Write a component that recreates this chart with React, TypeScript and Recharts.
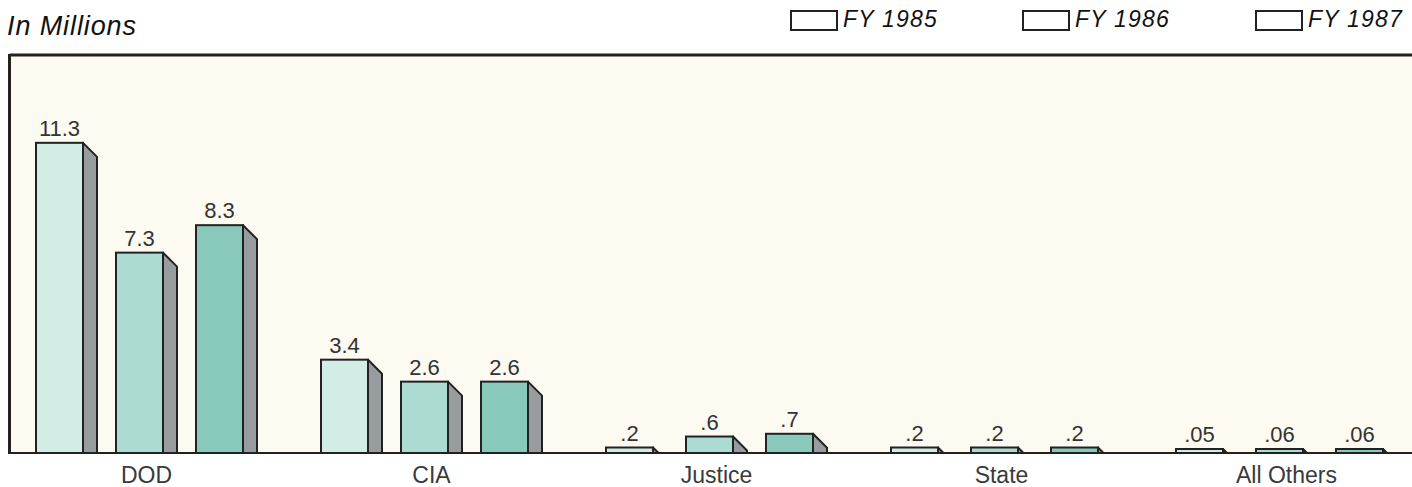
import { BarChart, Bar, XAxis, YAxis, CartesianGrid, ReferenceLine, LabelList } from 'recharts';

document.body.style.margin = '0';

const categories = ['DOD', 'CIA', 'Justice', 'State', 'All Others'];
const fy1985 = [11.3, 3.4, 0.2, 0.2, 0.05];
const fy1986 = [7.3, 2.6, 0.6, 0.2, 0.06];
const fy1987 = [8.3, 2.6, 0.7, 0.2, 0.06];
const seriesNames = ['FY 1985', 'FY 1986', 'FY 1987'];
const seriesKeys = ['fy1985', 'fy1986', 'fy1987'];
const colors = ['#d2ece6', '#acdbd1', '#88c9bc'];

const data = categories.map((name, i) => ({
  name,
  fy1985: fy1985[i],
  fy1986: fy1986[i],
  fy1987: fy1987[i],
}));

const FONT = '"Liberation Sans", Arial, Helvetica, sans-serif';
const DEPTH = 14; // width of the shaded side face

// "0.2" -> ".2", "0.05" -> ".05"
const fmt = (v: number) => String(v).replace(/^0\./, '.');

const Bar3D = (props: any) => {
  const { x, y, width, height, fill } = props;
  if (!height || height <= 0) return null;
  const fw = width - DEPTH;
  const d = Math.min(DEPTH, height);
  const base = y + height;
  const side = `${x + fw},${y} ${x + fw + d},${y + d} ${x + fw + d},${base} ${x + fw},${base}`;
  return (
    <g>
      <polygon points={side} fill="#999c9e" stroke="#222" strokeWidth={2} strokeLinejoin="round" />
      <rect x={x} y={y} width={fw} height={height} fill={fill} stroke="#222" strokeWidth={2} />
    </g>
  );
};

const ValueLabel = (props: any) => {
  const { x, y, width, value } = props;
  const fw = width - DEPTH;
  return (
    <text x={x + fw / 2} y={y - 7} textAnchor="middle" fontSize={22} fill="#333" fontFamily={FONT}>
      {fmt(value)}
    </text>
  );
};

const CategoryTick = (props: any) => {
  const { x, y, payload } = props;
  return (
    <text x={x} y={y + 22} textAnchor="middle" fontSize={23} fill="#3a3a3a" fontFamily={FONT}>
      {payload.value}
    </text>
  );
};

const legendX = [790, 1022, 1255];

export default function App() {
  return (
    <div style={{ position: 'relative', width: 1412, height: 487, background: '#fff', fontFamily: FONT }}>
      <div
        style={{
          position: 'absolute', left: 7, top: 13, fontSize: 27, lineHeight: 1,
          fontStyle: 'italic', color: '#111', letterSpacing: 0.9,
        }}
      >
        In Millions
      </div>
      {seriesNames.map((s, i) => (
        <div key={s} style={{ position: 'absolute', left: legendX[i], top: 8, display: 'flex', alignItems: 'flex-end' }}>
          <div style={{ width: 44, height: 17, border: '2px solid #222' }} />
          <span style={{ marginLeft: 5, fontSize: 23, lineHeight: 1, fontStyle: 'italic', color: '#111', letterSpacing: 1.2 }}>{s}</span>
        </div>
      ))}
      <div style={{ position: 'absolute', left: 0, top: 0 }}>
        <BarChart
          width={1412}
          height={487}
          data={data}
          margin={{ top: 55, right: 0, left: 10, bottom: 0 }}
          barSize={61}
          barGap={19}
        >
          <CartesianGrid horizontal={false} vertical={false} fill="#fdfaf1" />
          <XAxis
            dataKey="name"
            height={34}
            axisLine={{ stroke: '#222', strokeWidth: 2 }}
            tickLine={false}
            tick={<CategoryTick />}
            padding={{ left: -6, right: -17 }}
            interval={0}
          />
          <YAxis domain={[0, 14.5]} hide allowDataOverflow />
          <ReferenceLine y={14.5} stroke="#222" strokeWidth={3} />
          {seriesKeys.map((k, i) => (
            <Bar
              key={k}
              dataKey={k}
              name={seriesNames[i]}
              fill={colors[i]}
              shape={<Bar3D />}
              minPointSize={4}
              isAnimationActive={false}
            >
              <LabelList dataKey={k} content={<ValueLabel />} />
            </Bar>
          ))}
        </BarChart>
      </div>
      {/* left edge of the frame */}
      <div style={{ position: 'absolute', left: 8, top: 54, width: 3, height: 400, background: '#222' }} />
    </div>
  );
}
